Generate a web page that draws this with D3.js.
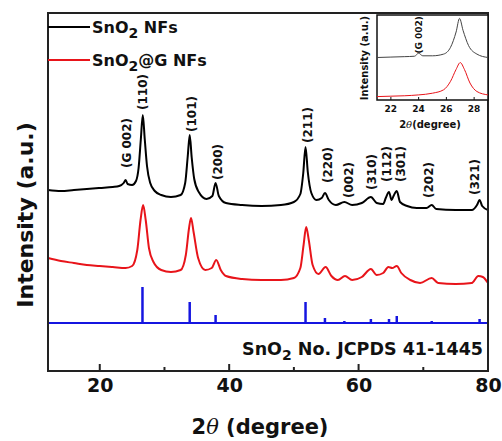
<!DOCTYPE html>
<html>
<head>
<meta charset="UTF-8">
<script src="https://cdn.jsdelivr.net/npm/d3@7"></script>
<style>
    body { margin: 0; background: #fff; }
    text { font-family: "DejaVu Sans", sans-serif; font-weight: bold; fill: #111; }
</style>
</head>
<body>
<svg width="502" height="441"></svg>
<script>

// main pattern: [2theta, intensity (a.u.)]
var snoNF = [[12,181],[14,180],[16,181],[18,182],[20,183],[22,184],[23,185],[23.7,188],[24.0,191],[24.3,187],[25,186],[25.6,190],[26.0,203],[26.35,232],[26.65,256],[26.95,232],[27.3,205],[27.8,188],[28.5,180],[29.5,176],[31,174],[32.5,176],[33.2,188],[33.6,215],[33.9,236],[34.2,214],[34.6,192],[35.3,179],[36.5,172],[37.4,175],[37.9,188],[38.4,175],[39.5,168],[42,166],[45,165],[48,166],[50,169],[51,177],[51.45,198],[51.8,224],[52.15,199],[52.7,178],[53.5,171],[54.3,173],[54.8,178],[55.4,171],[56.5,166],[57.8,169],[59,166],[60.5,168],[61.9,174],[62.8,168],[63.8,167],[64.2,173],[64.7,179],[65.1,171],[65.4,175],[65.9,180],[66.4,169],[67.5,165],[69,163],[70.5,163],[71.3,166],[72,162],[75,161],[77.5,161],[78.3,166],[78.7,171],[79.1,165],[80,161]];

var snoGNF = [[12,113],[14,110],[16,108],[18,106],[20,105],[22,104],[24,103],[25,105],[25.8,121],[26.3,151],[26.7,166],[27.1,151],[27.6,123],[28.3,109],[29.5,101],[31,99],[32.5,101],[33.3,116],[33.8,143],[34.1,153],[34.5,139],[35.2,113],[36.3,101],[37.3,103],[38.0,111],[38.7,101],[39.5,95],[42,92],[45,91],[48,91],[50,93],[51,103],[51.5,126],[51.9,144],[52.3,131],[52.9,106],[53.8,97],[54.9,104],[55.8,95],[56.8,91],[57.9,95],[59,91],[60.5,94],[61.9,102],[62.8,96],[63.8,98],[64.6,104],[65.2,103],[65.9,105],[66.6,98],[68,91],[69.5,88],[71.3,93],[72.3,88],[75,87],[77.5,88],[78.5,95],[79.2,94],[80,88]];

// JCPDS 41-1445 reference sticks
var refPos = [26.6, 33.9, 37.9, 51.8, 54.8, 57.8, 61.9, 64.7, 65.9, 71.3, 78.7];
var refInt = [36, 21, 8, 21, 5, 2, 4, 4, 7, 2, 4];
var refBase = 48;

// peak labels
var peakNames = ["(G 002)", "(110)", "(101)", "(200)", "(211)", "(220)", "(002)", "(310)", "(112)", "(301)", "(202)", "(321)"];
var peakX = [24.25, 26.7, 34.3, 38.2, 52.2, 55.3, 58.5, 62.1, 64.4, 66.6, 70.9, 77.9];
var peakY = [203, 261, 239, 191, 228, 188, 173, 181, 189, 189, 173, 176];

var xTicks = [20, 30, 40, 50, 60, 70, 80];

// inset (zoom on G 002 region)
var insetNF = [[21,50],[22,50.5],[23,51],[23.7,51.5],[24,55],[24.3,52],[25,52],[25.8,54],[26.3,62],[26.7,80],[26.95,96],[27.2,82],[27.6,64],[28.2,54],[29,50]];
var insetGNF = [[21,4],[22,4.5],[23,5],[24,6],[25,8],[25.8,12],[26.3,22],[26.7,36],[27.0,44],[27.3,36],[27.7,20],[28.2,10],[29,6]];
var insetTicks = [22, 24, 26, 28];

var svg = d3.select("svg");

var pLeft = 48, pRight = 488, pTop = 13, pBottom = 371;

var x = d3.scaleLinear().domain([12, 80]).range([pLeft, pRight]);
var y = d3.scaleLinear().domain([0, 358]).range([pBottom, pTop]);

var line = d3.line()
    .x(function(d) { return x(d[0]); })
    .y(function(d) { return y(d[1]); })
    .curve(d3.curveMonotoneX);

svg.append("path").datum(snoNF)
    .attr("d", line).attr("fill", "none").attr("stroke", "#000").attr("stroke-width", 2);
svg.append("path").datum(snoGNF)
    .attr("d", line).attr("fill", "none").attr("stroke", "#e8141a").attr("stroke-width", 2);

// reference sticks
svg.append("line")
    .attr("x1", pLeft).attr("x2", pRight)
    .attr("y1", y(refBase)).attr("y2", y(refBase))
    .attr("stroke", "#1515e0").attr("stroke-width", 2);
svg.selectAll(".stick").data(refPos).enter().append("line")
    .attr("class", "stick")
    .attr("x1", function(d) { return x(d); }).attr("x2", function(d) { return x(d); })
    .attr("y1", y(refBase)).attr("y2", function(d, i) { return y(refBase + refInt[i]); })
    .attr("stroke", "#1515e0").attr("stroke-width", 2.5);

// peak labels
svg.selectAll(".peak").data(peakNames).enter().append("text")
    .attr("class", "peak")
    .attr("transform", function(d, i) { return "translate(" + x(peakX[i]) + "," + y(peakY[i]) + ") rotate(-90)"; })
    .attr("dy", "0.35em")
    .style("font-size", "12px")
    .text(function(d) { return d; });

// frame + axis
svg.append("rect")
    .attr("x", pLeft).attr("y", pTop).attr("width", pRight - pLeft).attr("height", pBottom - pTop)
    .attr("fill", "none").attr("stroke", "#222").attr("stroke-width", 2);

var xAxis = svg.append("g")
    .attr("transform", "translate(0," + pBottom + ")")
    .call(d3.axisBottom(x).tickValues(xTicks).tickSize(0).tickPadding(8).tickFormat(function(d) { return d % 20 === 0 ? d : ""; }));
xAxis.select(".domain").remove();
xAxis.selectAll("text").style("font-size", "19px").style("font-family", "DejaVu Sans").style("font-weight", "bold").attr("fill", "#111");

svg.selectAll(".xt").data(xTicks).enter().append("line")
    .attr("x1", function(d) { return x(d); }).attr("x2", function(d) { return x(d); })
    .attr("y1", pBottom).attr("y2", function(d) { return d % 20 === 0 ? pBottom - 7 : pBottom - 4; })
    .attr("stroke", "#222").attr("stroke-width", 2);

svg.append("text")
    .attr("x", 260).attr("y", 434)
    .attr("text-anchor", "middle")
    .style("font-size", "21px")
    .html('2<tspan style="font-style:italic;font-weight:normal;font-family:\'DejaVu Serif\'">θ</tspan> (degree)');

svg.append("text")
    .attr("transform", "translate(33,215) rotate(-90)")
    .attr("text-anchor", "middle")
    .style("font-size", "22px")
    .text("Intensity (a.u.)");

// legend
var legend = [["#000", "SnO", "2", " NFs", 27], ["#e8141a", "SnO", "2", "@G NFs", 60]];
legend.forEach(function(l) {
    svg.append("line")
        .attr("x1", pLeft).attr("x2", 90).attr("y1", l[4]).attr("y2", l[4])
        .attr("stroke", l[0]).attr("stroke-width", 2);
    var t = svg.append("text").attr("x", 92).attr("y", l[4] + 6).style("font-size", "16px");
    t.append("tspan").text(l[1]);
    t.append("tspan").attr("dy", 5).style("font-size", "14px").text(l[2]);
    t.append("tspan").attr("dy", -5).text(l[3]);
});

// JCPDS note
var note = svg.append("text").attr("x", 483).attr("y", 355).attr("text-anchor", "end").style("font-size", "17.5px");
note.append("tspan").text("SnO");
note.append("tspan").attr("dy", 5).style("font-size", "14px").text("2");
note.append("tspan").attr("dy", -5).text(" No. JCPDS 41-1445");

// inset
var ix = d3.scaleLinear().domain([21, 29]).range([377, 488]);
var iy = d3.scaleLinear().domain([0, 100]).range([100, 15]);
var iline = d3.line()
    .x(function(d) { return ix(d[0]); })
    .y(function(d) { return iy(d[1]); })
    .curve(d3.curveMonotoneX);

svg.append("rect").attr("x", 377).attr("y", 15).attr("width", 111).attr("height", 85)
    .attr("fill", "#fff").attr("stroke", "#111").attr("stroke-width", 1.5);
svg.append("path").datum(insetNF)
    .attr("d", iline).attr("fill", "none").attr("stroke", "#444").attr("stroke-width", 1);
svg.append("path").datum(insetGNF)
    .attr("d", iline).attr("fill", "none").attr("stroke", "#e8141a").attr("stroke-width", 1);

svg.selectAll(".it").data(insetTicks).enter().append("line")
    .attr("x1", function(d) { return ix(d); }).attr("x2", function(d) { return ix(d); })
    .attr("y1", 100).attr("y2", 97).attr("stroke", "#111").attr("stroke-width", 1);
svg.selectAll(".itl").data(insetTicks).enter().append("text")
    .attr("x", function(d) { return ix(d); }).attr("y", 112)
    .attr("text-anchor", "middle").style("font-size", "9px")
    .text(function(d) { return d; });

svg.append("text")
    .attr("transform", "translate(" + ix(24) + ",16) rotate(-90)")
    .attr("text-anchor", "end").attr("dy", "0.35em")
    .style("font-size", "9px")
    .text("(G 002)");

svg.append("text")
    .attr("x", 430).attr("y", 128).attr("text-anchor", "middle").style("font-size", "10px")
    .html('2<tspan style="font-style:italic;font-weight:normal;font-family:\'DejaVu Serif\'">θ</tspan>(degree)');

svg.append("text")
    .attr("transform", "translate(368,58) rotate(-90)")
    .attr("text-anchor", "middle").style("font-size", "10px")
    .text("Intensity (a.u.)");

</script>
</body>
</html>
